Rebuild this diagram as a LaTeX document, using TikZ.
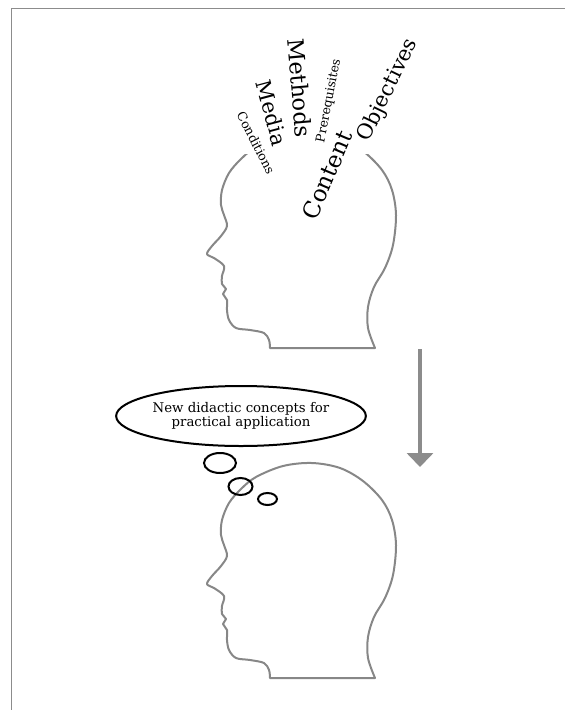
\documentclass[tikz,border=0pt]{standalone}
\usepackage{fontspec}
\setmainfont{DejaVu Serif}
\usetikzlibrary{shapes.geometric,arrows.meta}

\definecolor{outline}{RGB}{135,135,135}
\definecolor{framegray}{RGB}{140,140,140}
\definecolor{arrowgray}{RGB}{140,140,140}

\tikzset{
  headline/.style={draw=outline, line width=2pt, line join=round},
  word/.style={inner sep=0pt, text=black},
  bubble/.style={draw=black, ellipse, line width=2pt, inner sep=0pt},
  thoughtbox/.style={draw=black, ellipse, line width=2pt, inner sep=0pt,
    align=center, font=\fontsize{13.3}{14}\selectfont},
  head/.pic={
    \draw[headline] plot[smooth, tension=0.55] coordinates {
      (270,678) (269,670) (264,663) (250,660) (236,658) (229,650)
      (227,640) (227,630) (223,624) (226,619) (222,614) (222,606)
      (224,596) (214,588) (207,584) (212,576) (221,566) (227,556)
      (224,545) (221,535) (222,520) (229,503) (241,489) (256,477)
      (283,466) (312,463) (340,468) (363,481) (382,500) (392,520)
      (396,545) (393,575) (385,598) (374,617) (368,637) (368,658)
      (375,678)} -- cycle;
  }
}

\begin{document}
\begin{tikzpicture}[x=1pt, y=-1pt]
  \useasboundingbox (0,0) rectangle (565,710);

  % page frame (top and left edges)
  \draw[framegray, line width=1pt] (565,8) -- (11,8) -- (11,710);

  % upper head, open at the top where the terms spill out
  \begin{scope}
    \clip (0,154) rectangle (565,420);
    \pic at (0,-330) {head};
  \end{scope}

  % terms rising out of the upper head
  \node[word, rotate=-63, font=\fontsize{12.5}{13}\selectfont] (conditions) at (256,143) {Conditions};
  \node[word, rotate=-75, font=\fontsize{21}{22}\selectfont] (media) at (272,113) {Media};
  \node[word, rotate=-85, font=\fontsize{22.5}{24}\selectfont] (methods) at (300,88) {Methods};
  \node[word, rotate=79, font=\fontsize{12.5}{13}\selectfont] (prereq) at (329,101) {Prerequisites};
  \node[word, rotate=67, font=\fontsize{23}{24}\selectfont] (content) at (327,175) {Content};
  \node[word, rotate=64, font=\fontsize{21}{22}\selectfont] (objectives) at (388,90) {Objectives};

  % transition arrow
  \coordinate (arrowtop) at (420,349);
  \coordinate (arrowtip) at (420,467);
  \draw[arrowgray, line width=4pt, -{Triangle[width=26pt, length=14pt]}] (arrowtop) -- (arrowtip);

  % lower head with thought bubble
  \pic at (0,0) {head};
  \node[thoughtbox, minimum width=204pt, minimum height=60pt] (thought) at (241,416)
    {New didactic concepts for\\practical application};
  \node[bubble, minimum width=32pt, minimum height=20pt] (bubbleA) at (220,463) {};
  \node[bubble, minimum width=24pt, minimum height=17pt] (bubbleB) at (240.5,486.5) {};
  \node[bubble, minimum width=19pt, minimum height=12pt] (bubbleC) at (267.5,499) {};
\end{tikzpicture}
\end{document}
